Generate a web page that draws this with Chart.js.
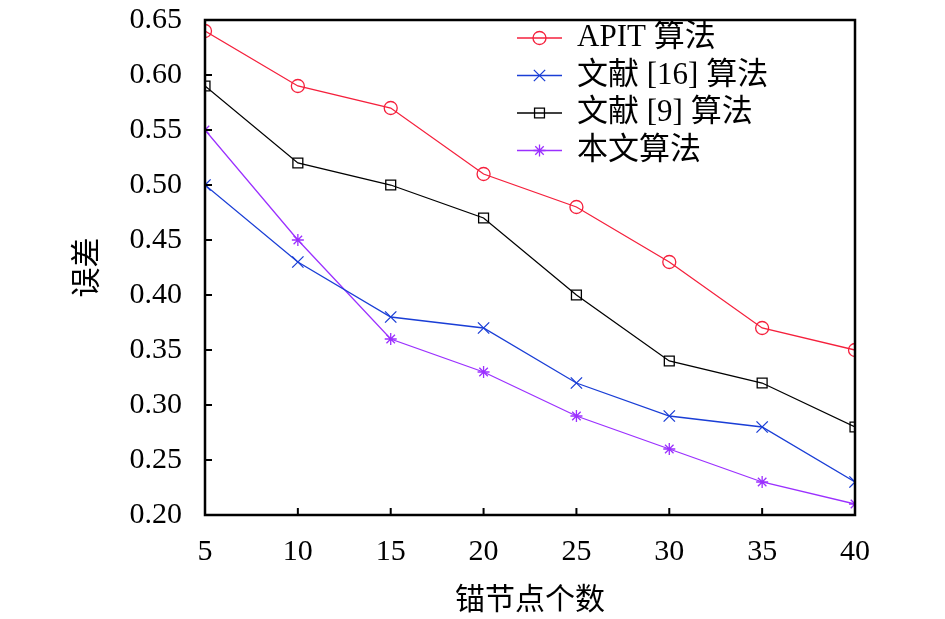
<!DOCTYPE html>
<html>
<head>
<meta charset="utf-8">
<script src="https://cdn.jsdelivr.net/npm/chart.js@4/dist/chart.umd.min.js"></script>
<style>
  html, body { margin: 0; padding: 0; background: #fff; }
  #wrap { width: 945px; height: 619px; }
</style>
</head>
<body>
<div id="wrap"><canvas id="c"></canvas></div>
<script>
const anchors = [5, 10, 15, 20, 25, 30, 35, 40];
const apit = [0.64, 0.59, 0.57, 0.51, 0.48, 0.43, 0.37, 0.35];
const ref16 = [0.50, 0.43, 0.38, 0.37, 0.32, 0.29, 0.28, 0.23];
const ref9 = [0.59, 0.52, 0.50, 0.47, 0.40, 0.34, 0.32, 0.28];
const ours = [0.55, 0.45, 0.36, 0.33, 0.29, 0.26, 0.23, 0.21];
const seriesNames = ["APIT 算法", "文献 [16] 算法", "文献 [9] 算法", "本文算法"];

const FONT = "'Liberation Serif', 'Times New Roman', 'Noto Sans CJK SC', serif";

const toPoints = (vals) => vals.map((v, i) => ({ x: anchors[i], y: v }));

const buildSet = (label, vals, color, style, radius) => ({
  label: label,
  data: toPoints(vals),
  borderColor: color,
  backgroundColor: "rgba(0,0,0,0)",
  borderWidth: 1.3,
  pointStyle: style,
  pointRadius: radius,
  pointBorderColor: color,
  pointBorderWidth: 1.3,
  pointBackgroundColor: "rgba(0,0,0,0)",
  tension: 0,
});

// frame, inward ticks and legend
const framePlugin = {
  id: "frame",
  afterDraw(chart) {
    const { ctx, chartArea: a, scales } = chart;
    ctx.save();
    ctx.strokeStyle = "#000";
    ctx.lineWidth = 2.5;
    ctx.strokeRect(a.left, a.top, a.right - a.left, a.bottom - a.top);

    ctx.lineWidth = 2;
    ctx.beginPath();
    scales.x.ticks.forEach((t) => {
      const px = scales.x.getPixelForValue(t.value);
      ctx.moveTo(px, a.bottom);
      ctx.lineTo(px, a.bottom - 7);
    });
    scales.y.ticks.forEach((t) => {
      const py = scales.y.getPixelForValue(t.value);
      ctx.moveTo(a.left, py);
      ctx.lineTo(a.left + 7, py);
    });
    ctx.stroke();

    // legend
    const x0 = 517, x1 = 562, tx = 577;
    let y = 38;
    chart.data.datasets.forEach((ds) => {
      ctx.strokeStyle = ds.borderColor;
      ctx.fillStyle = "rgba(0,0,0,0)";
      ctx.lineWidth = ds.borderWidth;
      ctx.beginPath();
      ctx.moveTo(x0, y);
      ctx.lineTo(x1, y);
      ctx.stroke();
      Chart.helpers.drawPoint(ctx, {
        pointStyle: ds.pointStyle,
        radius: ds.pointRadius,
        borderWidth: ds.pointBorderWidth,
        rotation: 0,
      }, (x0 + x1) / 2, y);
      ctx.fillStyle = "#000";
      ctx.font = "31px " + FONT;
      ctx.textBaseline = "middle";
      ctx.textAlign = "left";
      ctx.fillText(ds.label, tx, y);
      y += 37.5;
    });
    ctx.restore();
  },
};

new Chart(document.getElementById("c"), {
  type: "line",
  data: {
    datasets: [
      buildSet(seriesNames[0], apit, "#f5203c", "circle", 6.5),
      buildSet(seriesNames[1], ref16, "#1a3ed6", "crossRot", 8),
      buildSet(seriesNames[2], ref9, "#000000", "rect", 7),
      buildSet(seriesNames[3], ours, "#9b30ff", "star", 6),
    ],
  },
  options: {
    responsive: true,
    maintainAspectRatio: false,
    animation: false,
    devicePixelRatio: 1,
    layout: {
      padding: { left: 0, right: 90, top: 20, bottom: 0 },
    },
    scales: {
      x: {
        type: "linear",
        min: 5,
        max: 40,
        afterFit: (s) => {
          s.height = 104;
          s.paddingLeft = 0;
          s.paddingRight = 0;
        },
        grid: { display: false, drawTicks: false },
        border: { display: false },
        ticks: {
          stepSize: 5,
          padding: 19,
          color: "#000",
          font: { family: FONT, size: 30 },
        },
        title: {
          display: true,
          text: "锚节点个数",
          color: "#000",
          font: { family: FONT, size: 30 },
          padding: { top: 0, bottom: 0 },
        },
      },
      y: {
        min: 0.2,
        max: 0.65,
        afterFit: (s) => {
          s.width = 205;
          s.paddingTop = 0;
          s.paddingBottom = 0;
        },
        grid: { display: false, drawTicks: false },
        border: { display: false },
        ticks: {
          stepSize: 0.05,
          padding: 23,
          color: "#000",
          font: { family: FONT, size: 30 },
          callback: (v) => v.toFixed(2),
        },
        title: {
          display: true,
          text: "误差",
          color: "#000",
          font: { family: FONT, size: 30 },
          padding: { top: 70, bottom: 0 },
        },
      },
    },
    plugins: {
      legend: { display: false },
      tooltip: { enabled: false },
    },
  },
  plugins: [framePlugin],
});
</script>
</body>
</html>
